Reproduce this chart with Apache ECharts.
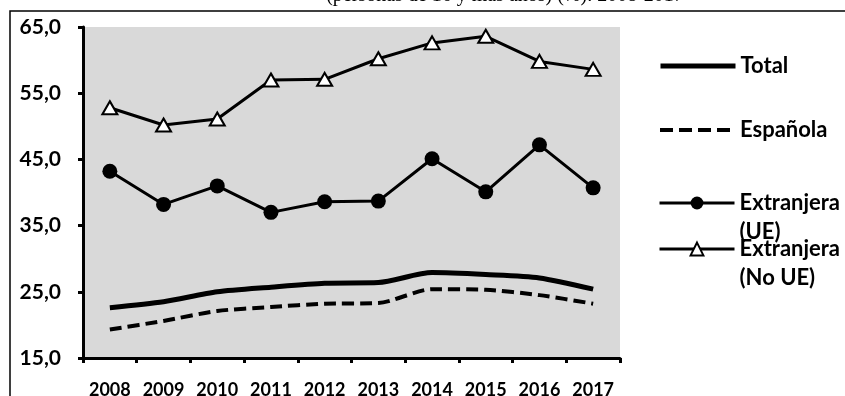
<!DOCTYPE html>
<html>
<head>
<meta charset="utf-8">
<script src="https://cdn.jsdelivr.net/npm/echarts@6/dist/echarts.min.js"></script>
<style>
  html, body { margin: 0; padding: 0; background: #fff; }
  #chart { width: 845px; height: 396px; }
</style>
</head>
<body>
<div id="chart"></div>
<script>
// Años de la serie
const years = ['2008', '2009', '2010', '2011', '2012', '2013', '2014', '2015', '2016', '2017'];

// Porcentajes por nacionalidad
const total = [22.6, 23.5, 25.0, 25.7, 26.3, 26.4, 27.9, 27.6, 27.1, 25.4];
const espanola = [19.3, 20.6, 22.1, 22.7, 23.2, 23.3, 25.4, 25.3, 24.5, 23.2];
const extranjeraUE = [43.2, 38.2, 41.0, 37.0, 38.6, 38.7, 45.1, 40.1, 47.2, 40.7];
const extranjeraNoUE = [52.8, 50.2, 51.1, 57.0, 57.1, 60.2, 62.6, 63.6, 59.8, 58.6];

// Escala del eje vertical
const yMin = 15;
const yMax = 65;
const yStep = 10;

const titleText = '(personas de 16 y más años) (%). 2008-2017';

const labelFont = 'Lato';
const legendLine = 29;

const chart = echarts.init(document.getElementById('chart'), null, { renderer: 'canvas' });

// Una leyenda por serie; los nombres largos se parten en dos líneas y se
// antepone una línea vacía para que el icono quede a la altura de la primera.
function legendFor(name, iconCenterY, twoLines, lineStyle, itemStyle) {
  const lines = twoLines ? 3 : 1;
  const cfg = {
    left: 653,
    top: iconCenterY - 5 - (lines * legendLine) / 2,
    orient: 'vertical',
    itemWidth: 75,
    itemHeight: 16,
    data: [name],
    selectedMode: false,
    lineStyle: lineStyle,
    textStyle: {
      fontFamily: labelFont,
      fontWeight: 'bold',
      fontSize: 22,
      color: '#000',
      lineHeight: legendLine,
      rich: {
        t: {
          fontFamily: labelFont,
          fontWeight: 'bold',
          fontSize: 22,
          color: '#000',
          lineHeight: legendLine
        }
      }
    },
    formatter: function (n) {
      if (!twoLines) return n;
      const parts = n.split(' (');
      return '{t| }\n{t|' + parts[0] + '}\n{t|(' + parts[1] + '}';
    }
  };
  if (itemStyle) cfg.itemStyle = itemStyle;
  return cfg;
}

chart.setOption({
  animation: false,
  backgroundColor: '#fff',
  graphic: [
    {
      type: 'polyline',
      silent: true,
      shape: { points: [[10, 400], [10, 11], [850, 11]] },
      style: { stroke: '#000', lineWidth: 1.5, fill: null }
    },
    {
      type: 'text',
      silent: true,
      x: 505,
      y: -4,
      style: {
        text: titleText,
        fontFamily: 'Liberation Serif',
        fontSize: 20,
        fill: '#000',
        align: 'center',
        verticalAlign: 'middle'
      }
    }
  ],
  legend: [
    legendFor('Total', 66, false, { color: '#000', width: 5 }, { opacity: 0 }),
    legendFor('Española', 130, false, { color: '#000', width: 4, type: [13, 6] }, { opacity: 0 }),
    legendFor('Extranjera (UE)', 203, true, { color: '#000', width: 3 }),
    legendFor('Extranjera (No UE)', 249, true, { color: '#000', width: 3 })
  ],
  grid: {
    left: 83,
    top: 27,
    right: 225,
    bottom: 38,
    containLabel: false,
    outerBoundsMode: 'none',
    show: true,
    backgroundColor: '#d9d9d9',
    borderWidth: 0
  },
  xAxis: {
    type: 'category',
    data: years,
    boundaryGap: true,
    axisLine: { lineStyle: { color: '#000', width: 3 } },
    axisTick: { show: true, length: 5, lineStyle: { color: '#000', width: 3 } },
    axisLabel: {
      margin: 23,
      interval: 0,
      fontFamily: labelFont,
      fontWeight: 'bold',
      fontSize: 18,
      color: '#000'
    },
    splitLine: { show: false }
  },
  yAxis: {
    type: 'value',
    min: yMin,
    max: yMax,
    interval: yStep,
    axisLine: { show: true, lineStyle: { color: '#000', width: 3 } },
    axisTick: { show: true, length: 5, lineStyle: { color: '#000', width: 3 } },
    axisLabel: {
      margin: 22,
      fontFamily: labelFont,
      fontWeight: 'bold',
      fontSize: 21,
      color: '#000',
      formatter: function (v) { return v.toFixed(1).replace('.', ','); }
    },
    splitLine: { show: false }
  },
  series: [
    {
      name: 'Total',
      type: 'line',
      data: total,
      smooth: 0.25,
      symbol: 'none',
      lineStyle: { color: '#000', width: 5 },
      itemStyle: { color: '#000' }
    },
    {
      name: 'Española',
      type: 'line',
      data: espanola,
      smooth: 0.25,
      symbol: 'none',
      lineStyle: { color: '#000', width: 4, type: [12, 6] },
      itemStyle: { color: '#000' }
    },
    {
      name: 'Extranjera (UE)',
      type: 'line',
      data: extranjeraUE,
      symbol: 'circle',
      symbolSize: 15,
      lineStyle: { color: '#000', width: 3 },
      itemStyle: { color: '#000', borderColor: '#000', borderWidth: 0 }
    },
    {
      name: 'Extranjera (No UE)',
      type: 'line',
      data: extranjeraNoUE,
      symbol: 'triangle',
      symbolSize: [15, 13],
      lineStyle: { color: '#000', width: 3 },
      itemStyle: { color: '#fff', borderColor: '#000', borderWidth: 2 }
    }
  ]
});
</script>
</body>
</html>
